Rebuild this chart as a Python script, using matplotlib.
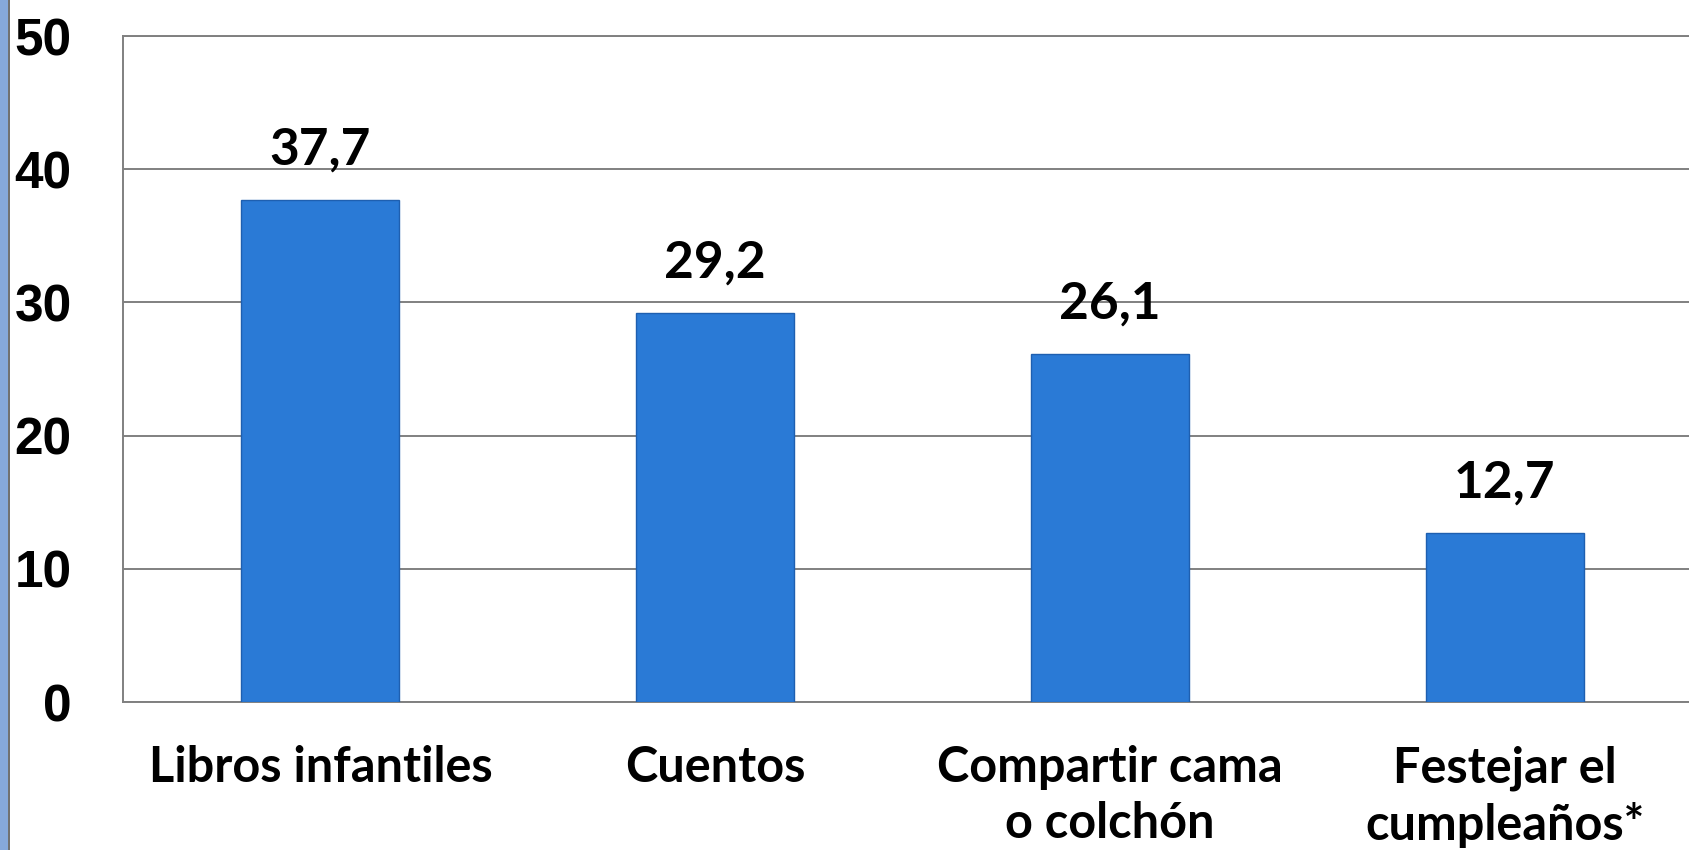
import matplotlib.pyplot as plt
from matplotlib.patches import Rectangle
from matplotlib.lines import Line2D

# Data
categories = ['Libros infantiles', 'Cuentos', 'Compartir cama\no colchón', 'Festejar el\ncumpleaños*']
values = [37.7, 29.2, 26.1, 12.7]
value_labels = ['37,7', '29,2', '26,1', '12,7']
y_ticks = [0, 10, 20, 30, 40, 50]

W, H = 1689, 850
fig = plt.figure(figsize=(W / 100, H / 100), dpi=100)
fig.patch.set_facecolor('white')

# axes extends a bit past the right edge, as in the reference
ax = fig.add_axes([123 / W, 148 / H, 1579 / W, 666 / H])
ax.set_facecolor('white')

x = range(len(categories))
bars = ax.bar(x, values, width=0.4, color='#2A7AD6', edgecolor='#1E5FB0', linewidth=1.0, zorder=3)

ax.set_xlim(-0.5, len(categories) - 0.5)
ax.set_ylim(0, 50)
ax.set_yticks(y_ticks)
ax.set_yticklabels([str(t) for t in y_ticks], fontfamily='Liberation Sans', fontweight='bold', fontsize=37)
ax.set_xticks(list(x))
ax.set_xticklabels(categories, fontfamily='Lato', fontweight='bold', fontsize=35, linespacing=1.3)
ax.tick_params(axis='y', length=0, pad=37)
ax.tick_params(axis='x', length=0, pad=31)

ax.grid(axis='y', color='#808080', linewidth=1.4, zorder=0)
for s in ['left', 'bottom', 'top', 'right']:
    ax.spines[s].set_color('#808080')
    ax.spines[s].set_linewidth(1.4)

# value labels above bars
for rect, lab in zip(bars, value_labels):
    ax.annotate(lab, (rect.get_x() + rect.get_width() / 2, rect.get_height()),
                xytext=(0, 19), textcoords='offset points', ha='center', va='bottom',
                fontfamily='Lato', fontweight='bold', fontsize=37, color='black')

# blue strip on the left edge of the slide
fig.patches.append(Rectangle((0, 0), 8 / W, 1, transform=fig.transFigure, facecolor='#86A8DA',
                             edgecolor='none'))
fig.lines.append(Line2D([8.5 / W, 8.5 / W], [0, 1], transform=fig.transFigure, color='#555555', linewidth=1.2))

fig.savefig('out.png', dpi=100)
